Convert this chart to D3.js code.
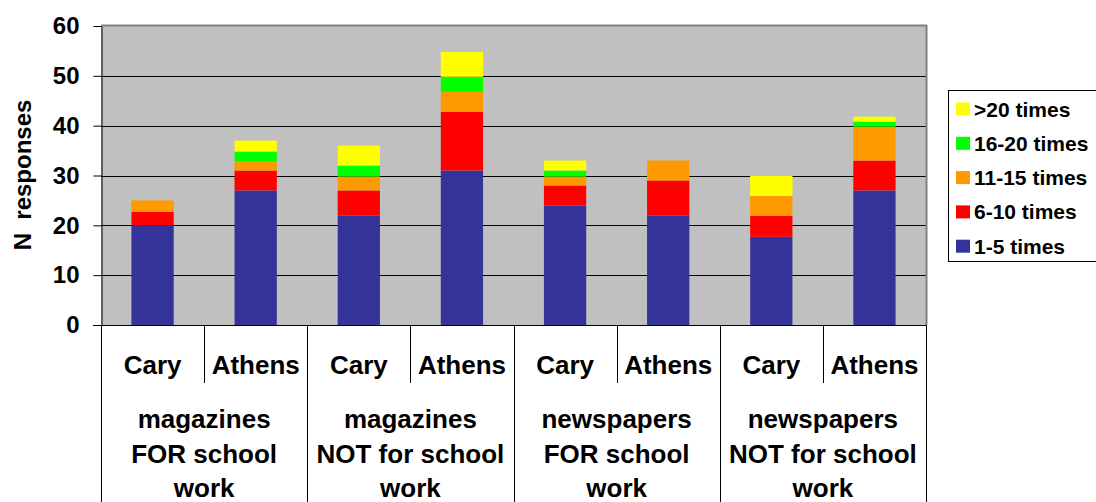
<!DOCTYPE html>
<html>
<head>
<meta charset="utf-8">
<script src="https://cdn.jsdelivr.net/npm/d3@7"></script>
<style>
  body { margin: 0; background: #fff; }
  svg { font-family: "Liberation Sans", Arial, sans-serif; font-weight: bold; }
</style>
</head>
<body>
<svg id="chart" width="1096" height="502"></svg>
<script>
// data
const groups = ["magazines\nFOR school\nwork", "magazines\nNOT for school\nwork",
                "newspapers\nFOR school\nwork", "newspapers\nNOT for school\nwork"]
const sites = ["Cary", "Athens"]
const seriesNames = ["1-5 times", "6-10 times", "11-15 times", "16-20 times", ">20 times"]
const seriesColors = ["#333399", "#ff0000", "#ff9900", "#00ff00", "#ffff00"]
const times1to5 = [20, 27, 22, 31, 24, 22, 17.7, 27]
const times6to10 = [2.7, 4, 5, 11.8, 4, 7, 4.2, 6]
const times11to15 = [2.3, 1.9, 2.8, 4, 1.8, 4, 4, 6.8]
const times16to20 = [0, 1.9, 2.2, 3, 1.2, 0, 0, 1]
const timesOver20 = [0, 2.2, 4, 5, 2, 0, 4, 1]
const yTicks = [0, 10, 20, 30, 40, 50, 60]

const seriesValues = [times1to5, times6to10, times11to15, times16to20, timesOver20]
const bars = []
groups.forEach((g, gi) => sites.forEach((s, si) => bars.push({ key: gi + "-" + s, group: g, site: s })))
const rows = bars.map((b, i) => {
  const r = { key: b.key }
  seriesNames.forEach((n, k) => r[n] = seriesValues[k][i])
  return r
})

// layout
const plotLeft = 101, plotRight = 926, plotTop = 26, plotBottom = 325, tableBottom = 502
const svg = d3.select("#chart")

const x = d3.scaleBand().domain(bars.map(b => b.key)).range([plotLeft, plotRight])
  .paddingInner(0.59).paddingOuter(0.295)
const xg = d3.scaleBand().domain(groups).range([plotLeft, plotRight])
const y = d3.scaleLinear().domain([0, 60]).range([plotBottom, plotTop])
const color = d3.scaleOrdinal().domain(seriesNames).range(seriesColors)

// plot area
svg.append("rect").attr("x", plotLeft).attr("y", plotTop)
  .attr("width", plotRight - plotLeft).attr("height", plotBottom - plotTop)
  .attr("fill", "#c0c0c0")

svg.append("g").selectAll("line").data(yTicks.filter(t => t > 0 && t < 60)).join("line")
  .attr("x1", plotLeft).attr("x2", plotRight)
  .attr("y1", d => Math.round(y(d)) + 0.5).attr("y2", d => Math.round(y(d)) + 0.5)
  .attr("stroke", "#000").attr("stroke-width", 1)

// stacked bars
const stacked = d3.stack().keys(seriesNames)(rows)
svg.append("g").selectAll("g").data(stacked).join("g")
  .attr("fill", d => color(d.key))
  .selectAll("rect").data(d => d).join("rect")
    .attr("x", d => x(d.data.key))
    .attr("width", x.bandwidth())
    .attr("y", d => y(d[1]))
    .attr("height", d => y(d[0]) - y(d[1]))

// border of the plot (top and right)
svg.append("line").attr("x1", plotLeft).attr("x2", plotRight + 1)
  .attr("y1", plotTop - 0.5).attr("y2", plotTop - 0.5)
  .attr("stroke", "#808080").attr("stroke-width", 2)
svg.append("line").attr("x1", plotRight + 0.5).attr("x2", plotRight + 0.5)
  .attr("y1", plotTop - 1).attr("y2", plotBottom)
  .attr("stroke", "#808080").attr("stroke-width", 2)

// y axis
const yAxis = svg.append("g").attr("transform", `translate(${plotLeft + 0.5},0)`)
  .call(d3.axisLeft(y).tickValues(yTicks).tickSize(8).tickSizeOuter(0).tickPadding(14))
yAxis.attr("font-family", null).attr("font-size", null)
yAxis.select(".domain").attr("stroke", "#000")
yAxis.selectAll(".tick line").attr("stroke", "#000")
yAxis.selectAll(".tick text").attr("font-size", 24).attr("fill", "#000")

svg.append("text")
  .attr("transform", "translate(31,175) rotate(-90)")
  .attr("text-anchor", "middle").attr("font-size", 24)
  .style("white-space", "pre")
  .text("N  responses")

// x axis line and the category table below it
svg.append("line").attr("x1", plotLeft - 8).attr("x2", plotRight)
  .attr("y1", plotBottom + 0.5).attr("y2", plotBottom + 0.5)
  .attr("stroke", "#000")

const siteEdges = groups.map(g => xg(g) + xg.bandwidth() / 2)
svg.append("g").selectAll("line").data(siteEdges).join("line")
  .attr("x1", d => Math.round(d) + 0.5).attr("x2", d => Math.round(d) + 0.5)
  .attr("y1", plotBottom).attr("y2", 383).attr("stroke", "#000")

const groupEdges = groups.map(g => xg(g)).concat([plotRight])
svg.append("g").selectAll("line").data(groupEdges).join("line")
  .attr("x1", d => Math.round(d) + 0.5).attr("x2", d => Math.round(d) + 0.5)
  .attr("y1", plotBottom).attr("y2", tableBottom).attr("stroke", "#000")

svg.append("g").selectAll("text").data(bars).join("text")
  .attr("x", d => x(d.key) + x.bandwidth() / 2)
  .attr("y", 374)
  .attr("text-anchor", "middle").attr("font-size", 26)
  .text(d => d.site)

const groupText = svg.append("g").selectAll("text").data(groups).join("text")
  .attr("text-anchor", "middle").attr("font-size", 26)
groupText.selectAll("tspan").data(g => g.split("\n").map(t => ({ t, g }))).join("tspan")
  .attr("x", d => xg(d.g) + xg.bandwidth() / 2)
  .attr("y", (d, i) => 428 + i * 34.5)
  .text(d => d.t)

// legend
const legend = svg.append("g")
legend.append("rect").attr("x", 948.5).attr("y", 90.5).attr("width", 160).attr("height", 171)
  .attr("fill", "#fff").attr("stroke", "#000")
const items = legend.selectAll("g").data(seriesNames.slice().reverse()).join("g")
  .attr("transform", (d, i) => `translate(956,${109 + i * 34.3})`)
items.append("rect").attr("x", 0).attr("y", -6.5).attr("width", 14).attr("height", 13)
  .attr("fill", d => color(d))
items.append("text").attr("x", 18).attr("y", 7.5).attr("font-size", 21).text(d => d)
</script>
</body>
</html>
